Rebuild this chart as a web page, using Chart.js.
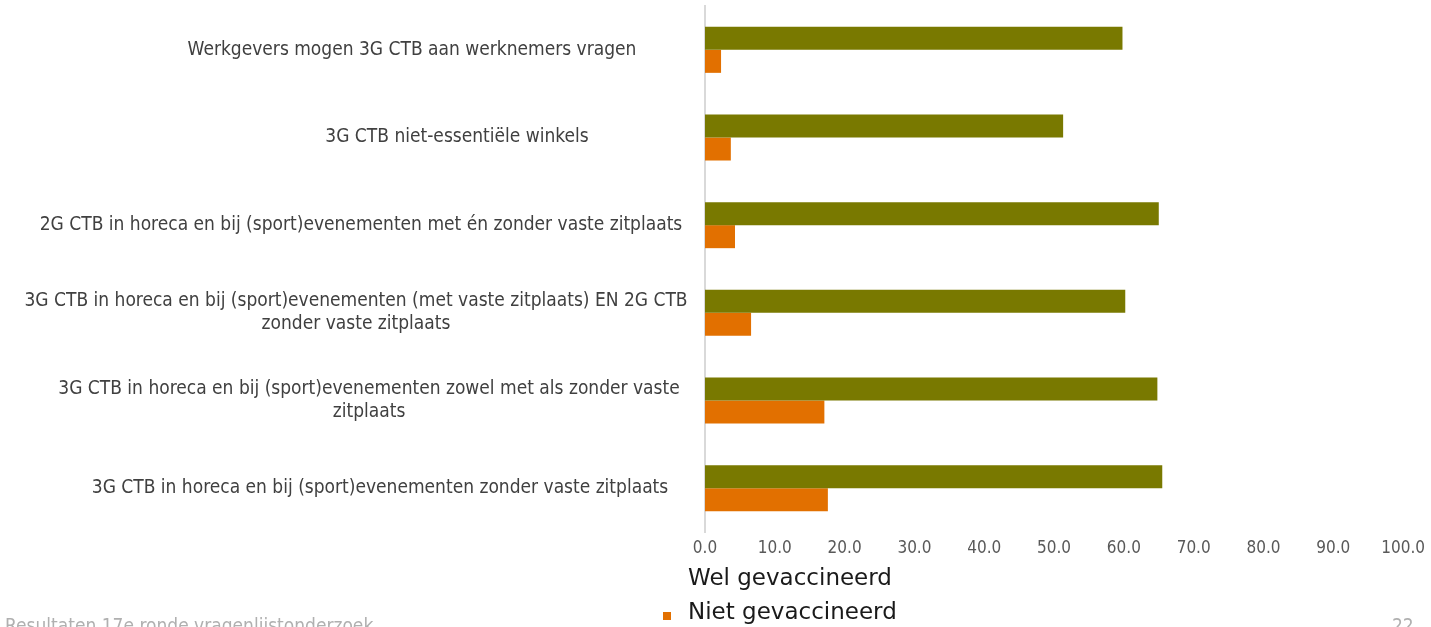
<!DOCTYPE html>
<html>
<head>
<meta charset="utf-8">
<script src="https://cdn.jsdelivr.net/npm/chart.js@4.4.1/dist/chart.umd.min.js"></script>
<style>
  html, body { margin: 0; padding: 0; background: #ffffff; }
  #wrap { position: relative; width: 1431px; height: 627px; overflow: hidden; }
  #c { position: absolute; left: 0; top: 0; }
  .leg { position: absolute; font-family: "DejaVu Sans", sans-serif; font-size: 23px; color: #1a1a1a; white-space: nowrap; line-height: 1; }
  .sw { position: absolute; width: 8px; height: 8px; }
  .foot { position: absolute; font-family: "DejaVu Sans Condensed", "DejaVu Sans", sans-serif; font-size: 19px; color: #b0b0b0; white-space: nowrap; line-height: 1; }
</style>
</head>
<body>
<div id="wrap">
  <canvas id="c" width="1431" height="627"></canvas>
  <div class="leg" id="leg1" style="left:688px; top:566px;"></div>
  <div class="sw" id="sw2" style="left:663px; top:612px;"></div>
  <div class="leg" id="leg2" style="left:688px; top:600px;"></div>
  <div class="foot" style="left:5px; top:616px;">Resultaten 17e ronde vragenlijstonderzoek</div>
  <div class="foot" style="left:1392px; top:616px;">22</div>
</div>
<script>
// ---- data ----
const categories = [
  ["Werkgevers mogen 3G CTB aan werknemers vragen"],
  ["3G CTB niet-essentiële winkels"],
  ["2G CTB in horeca en bij (sport)evenementen met én zonder vaste zitplaats"],
  ["3G CTB in horeca en bij (sport)evenementen (met vaste zitplaats) EN 2G CTB", "zonder vaste zitplaats"],
  ["3G CTB in horeca en bij (sport)evenementen zowel met als zonder vaste", "zitplaats"],
  ["3G CTB in horeca en bij (sport)evenementen zonder vaste zitplaats"]
];
const seriesNames = ["Wel gevaccineerd", "Niet gevaccineerd"];
const welGevaccineerd = [59.8, 51.3, 65.0, 60.2, 64.8, 65.5];
const nietGevaccineerd = [2.3, 3.7, 4.3, 6.6, 17.1, 17.6];
const xTicks = [0, 10, 20, 30, 40, 50, 60, 70, 80, 90, 100];

// ---- styles ----
const colors = ["#797900", "#e27000"];
const labelCenterX = [412, 457, 361, 356, 369, 380];

document.getElementById('leg1').textContent = seriesNames[0];
document.getElementById('leg2').textContent = seriesNames[1];
document.getElementById('sw2').style.background = colors[1];

const labelPlugin = {
  id: 'catLabels',
  afterDraw(chart) {
    const ctx = chart.ctx;
    const ys = chart.scales.y;
    ctx.save();
    ctx.font = '19px "DejaVu Sans Condensed", "DejaVu Sans", sans-serif';
    ctx.fillStyle = '#404040';
    ctx.textAlign = 'center';
    ctx.textBaseline = 'middle';
    const lh = 23;
    categories.forEach((lines, i) => {
      const y = ys.getPixelForValue(i);
      const y0 = y - (lines.length - 1) * lh / 2;
      lines.forEach((ln, k) => ctx.fillText(ln, labelCenterX[i], y0 + k * lh));
    });
    ctx.restore();
  }
};

new Chart(document.getElementById('c'), {
  type: 'bar',
  data: {
    labels: categories.map(c => c.join(' ')),
    datasets: [
      { label: seriesNames[0], data: welGevaccineerd, backgroundColor: colors[0], borderWidth: 0 },
      { label: seriesNames[1], data: nietGevaccineerd, backgroundColor: colors[1], borderWidth: 0 }
    ]
  },
  options: {
    indexAxis: 'y',
    responsive: false,
    animation: false,
    devicePixelRatio: 1,
    layout: { padding: { top: 6, right: 26, bottom: 0, left: 0 } },
    datasets: { bar: { categoryPercentage: 0.525, barPercentage: 1.0 } },
    plugins: { legend: { display: false }, tooltip: { enabled: false } },
    scales: {
      x: {
        type: 'linear',
        min: xTicks[0],
        max: xTicks[xTicks.length - 1],
        afterBuildTicks(scale) { scale.ticks = xTicks.map(v => ({ value: v })); },
        afterFit(scale) { scale.height = 95; },
        grid: { display: false, drawTicks: false },
        border: { display: false },
        ticks: {
          padding: 6,
          color: '#595959',
          font: { family: '"DejaVu Sans Condensed", "DejaVu Sans", sans-serif', size: 17 },
          callback: v => Number(v).toFixed(1)
        }
      },
      y: {
        type: 'category',
        afterFit(scale) { scale.width = 705; },
        grid: { display: false, drawTicks: false },
        border: { display: true, color: '#d9d9d9', width: 2 },
        ticks: { display: false }
      }
    }
  },
  plugins: [labelPlugin]
});
</script>
</body>
</html>
